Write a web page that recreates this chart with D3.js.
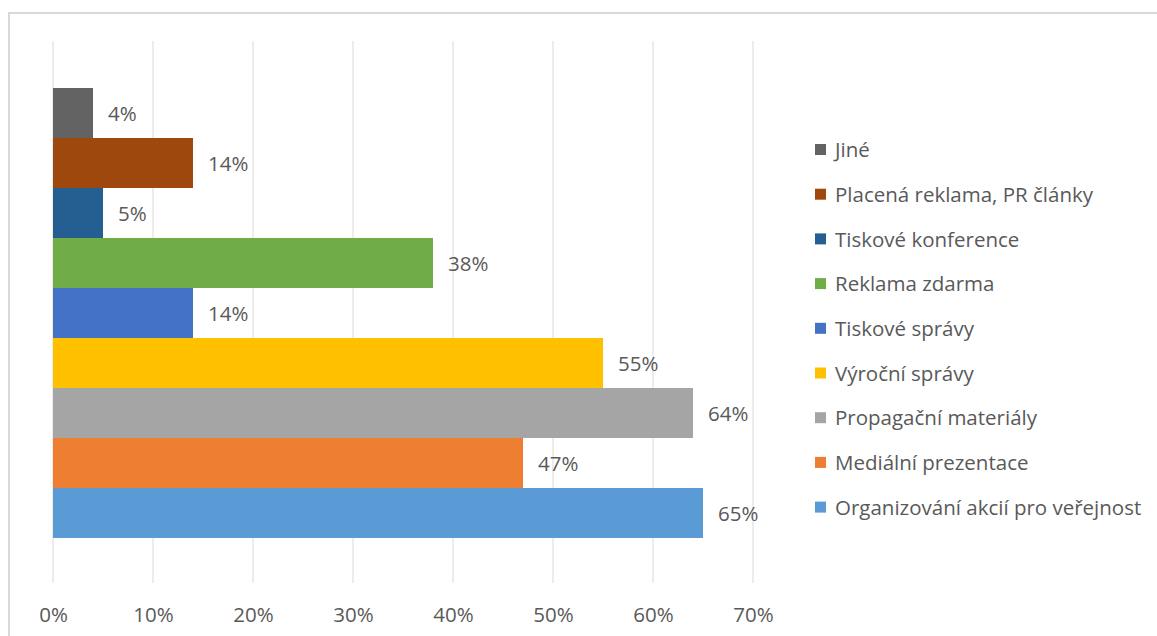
<!DOCTYPE html>
<html>
<head>
<meta charset="utf-8">
<script src="https://cdn.jsdelivr.net/npm/d3@7"></script>
<style>
  html, body { margin: 0; padding: 0; background: #fff; }
  svg { display: block; }
  text { font-family: "Open Sans", "Noto Sans", sans-serif; fill: #595959; }
</style>
</head>
<body>
<svg id="chart" width="1157" height="636"></svg>
<script>
// Series, listed from top bar to bottom bar
const seriesNames = [
  "Jiné",
  "Placená reklama, PR články",
  "Tiskové konference",
  "Reklama zdarma",
  "Tiskové správy",
  "Výroční správy",
  "Propagační materiály",
  "Mediální prezentace",
  "Organizování akcií pro veřejnost"
];
const seriesValues = [4, 14, 5, 38, 14, 55, 64, 47, 65];
const seriesColors = ["#636363", "#9E480E", "#255E91", "#70AD47", "#4472C4", "#FFC000", "#A5A5A5", "#ED7D31", "#5B9BD5"];
const xTicks = [0, 10, 20, 30, 40, 50, 60, 70];

const svg = d3.select("#chart");
const fontSize = "20.5px";

// chart frame
svg.append("rect")
  .attr("x", 9).attr("y", 13)
  .attr("width", 1300).attr("height", 800)
  .attr("fill", "none")
  .attr("stroke", "#d9d9d9")
  .attr("stroke-width", 2);

const plotTop = 41, plotBottom = 583;
const x = d3.scaleLinear().domain([0, 70]).range([53, 753]);
const y = d3.scaleBand().domain(seriesNames).range([88, 538]).padding(0);

// vertical gridlines
svg.append("g")
  .selectAll("line")
  .data(xTicks)
  .join("line")
  .attr("x1", d => x(d)).attr("x2", d => x(d))
  .attr("y1", plotTop).attr("y2", plotBottom)
  .attr("stroke", "#d9d9d9")
  .attr("stroke-width", 1);

// x axis tick labels
const xAxis = d3.axisBottom(x).tickValues(xTicks).tickFormat(d => d + "%").tickSize(0).tickPadding(0);
const ax = svg.append("g").attr("transform", `translate(0, ${plotBottom})`).call(xAxis);
ax.select(".domain").remove();
ax.selectAll("text")
  .attr("y", 32)
  .attr("dy", "0.35em")
  .style("font-size", fontSize)
  .style("font-family", "\"Open Sans\", sans-serif")
  .attr("fill", "#595959");

// bars
const rows = seriesNames.map((n, i) => ({ name: n, value: seriesValues[i], color: seriesColors[i] }));
svg.append("g")
  .selectAll("rect")
  .data(rows)
  .join("rect")
  .attr("x", x(0))
  .attr("y", d => y(d.name))
  .attr("width", d => x(d.value) - x(0))
  .attr("height", y.bandwidth())
  .attr("fill", d => d.color);

// value labels
svg.append("g")
  .selectAll("text")
  .data(rows)
  .join("text")
  .attr("x", d => x(d.value) + 15)
  .attr("y", d => y(d.name) + y.bandwidth() / 2 + 1)
  .attr("dy", "0.35em")
  .style("font-size", fontSize)
  .text(d => d.value + "%");

// legend
const legend = svg.append("g");
const legendTop = 150, legendStep = 44.7;
const item = legend.selectAll("g")
  .data(rows)
  .join("g")
  .attr("transform", (d, i) => `translate(815, ${legendTop + i * legendStep})`);
item.append("rect")
  .attr("x", 0).attr("y", -6)
  .attr("width", 11).attr("height", 11)
  .attr("fill", d => d.color);
item.append("text")
  .attr("x", 20).attr("y", 0)
  .attr("dy", "0.35em")
  .style("font-size", fontSize)
  .text(d => d.name);
</script>
</body>
</html>
